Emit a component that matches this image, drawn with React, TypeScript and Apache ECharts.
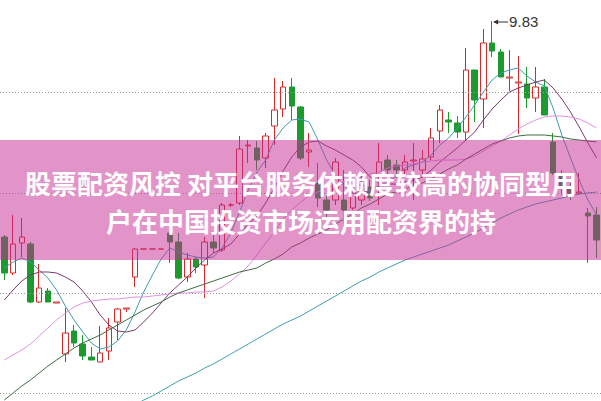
import React, { useEffect, useRef } from "react";
import * as echarts from "echarts";

const dayLabels = [
  "D1","D2","D3","D4","D5","D6","D7","D8","D9","D10","D11","D12","D13","D14","D15","D16","D17","D18","D19","D20",
  "D21","D22","D23","D24","D25","D26","D27","D28","D29","D30","D31","D32","D33","D34","D35","D36","D37","D38","D39","D40",
  "D41","D42","D43","D44","D45","D46","D47","D48","D49","D50","D51","D52","D53","D54","D55","D56","D57","D58","D59","D60",
  "D61","D62","D63","D64","D65","D66","D67","D68","D69",
];

const opens = [7.67,7.31,7.61,7.60,7.02,7.13,7.01,6.50,6.73,6.60,6.47,6.42,6.53,6.82,6.95,7.27,7.55,7.55,7.55,7.71,7.62,7.27,7.45,7.39,7.62,7.54,7.99,8.01,8.58,8.56,8.46,8.78,8.95,9.17,8.97,8.52,8.21,8.04,8.04,8.04,7.96,8.04,8.17,8.29,8.44,8.39,8.34,8.43,8.34,8.47,8.73,8.84,8.81,8.72,9.34,9.05,9.61,9.52,9.26,9.21,9.20,9.06,9.17,8.62,8.28,8.16,8.11,7.91,7.89];
const closes = [7.31,7.60,7.67,7.02,7.16,7.02,7.02,6.71,6.61,6.48,6.44,6.51,6.76,6.95,6.96,7.55,7.55,7.55,7.55,7.62,7.26,7.45,7.37,7.62,7.56,7.99,7.99,8.55,8.59,8.44,8.68,8.94,9.17,8.98,8.46,8.54,8.06,7.94,8.42,7.94,8.11,8.19,8.06,8.42,8.34,8.34,8.42,8.44,8.45,8.66,8.94,8.82,8.72,9.34,9.04,9.61,9.53,9.27,9.27,9.22,9.06,9.17,8.89,8.31,8.16,8.09,8.12,7.88,7.64];
const lows = [7.24,7.29,7.47,7.01,7.01,7.02,7.01,6.42,6.57,6.44,6.44,6.42,6.44,6.64,6.92,7.17,7.55,7.55,7.55,7.41,7.25,7.22,7.31,7.06,7.51,7.52,7.97,7.99,8.41,8.34,8.36,8.59,8.87,8.84,8.44,8.37,7.97,7.87,7.99,7.77,7.94,7.99,8.03,7.99,8.29,8.26,8.29,8.04,8.29,8.44,8.61,8.71,8.66,8.64,8.82,8.76,9.47,9.27,9.13,8.70,8.96,8.92,8.89,8.29,8.09,8.04,8.09,7.41,7.46];
const highs = [7.69,7.89,7.86,7.62,7.40,7.16,7.02,6.96,6.79,6.69,6.57,6.78,6.86,6.96,6.96,7.56,7.55,7.55,7.55,7.74,7.71,7.51,7.47,7.67,7.71,8.01,8.01,8.68,8.64,8.63,8.71,9.26,9.23,9.26,8.98,8.71,8.41,8.11,8.46,8.34,8.14,8.29,8.24,8.61,8.49,8.44,8.49,8.61,8.54,8.76,8.99,8.92,8.88,9.56,9.34,9.75,9.83,9.55,9.54,9.48,9.37,9.37,9.25,8.71,8.34,8.21,8.31,7.96,7.97];

const ma5 = [7.36,7.42,7.46,7.42,7.34,7.26,7.14,6.98,6.84,6.72,6.61,6.55,6.57,6.63,6.74,6.92,7.12,7.29,7.45,7.56,7.52,7.49,7.47,7.46,7.47,7.56,7.71,7.92,8.14,8.32,8.44,8.64,8.76,8.84,8.85,8.82,8.64,8.44,8.29,8.18,8.11,8.11,8.14,8.18,8.22,8.28,8.36,8.39,8.42,8.49,8.59,8.66,8.76,8.87,8.99,9.12,9.24,9.31,9.34,9.36,9.28,9.22,9.18,8.96,8.69,8.46,8.24,8.04,7.89];
const ma10 = [7.04,7.14,7.23,7.29,7.32,7.32,7.31,7.27,7.22,7.13,7.02,6.89,6.79,6.73,6.72,6.74,6.82,6.91,7.01,7.11,7.19,7.27,7.36,7.44,7.51,7.55,7.60,7.70,7.80,7.88,8.01,8.16,8.33,8.47,8.57,8.62,8.63,8.58,8.54,8.49,8.44,8.37,8.27,8.21,8.20,8.20,8.22,8.24,8.27,8.34,8.42,8.49,8.56,8.64,8.72,8.84,8.95,9.04,9.12,9.16,9.19,9.22,9.24,9.16,9.05,8.92,8.77,8.61,8.46];
const ma20 = [6.44,6.49,6.54,6.60,6.68,6.76,6.84,6.91,6.97,7.01,7.03,7.04,7.05,7.05,7.06,7.07,7.07,7.08,7.09,7.10,7.11,7.11,7.12,7.12,7.13,7.17,7.23,7.30,7.38,7.49,7.61,7.72,7.85,7.94,8.02,8.08,8.12,8.16,8.19,8.22,8.24,8.27,8.30,8.32,8.36,8.38,8.39,8.40,8.42,8.43,8.44,8.44,8.44,8.45,8.48,8.53,8.58,8.63,8.69,8.75,8.80,8.84,8.87,8.88,8.88,8.87,8.85,8.81,8.76];
const ma30 = [6.04,6.11,6.18,6.24,6.31,6.38,6.44,6.50,6.56,6.61,6.65,6.69,6.74,6.79,6.84,6.89,6.94,6.98,7.02,7.07,7.11,7.14,7.17,7.20,7.23,7.26,7.29,7.32,7.34,7.36,7.41,7.45,7.50,7.57,7.61,7.66,7.70,7.74,7.80,7.85,7.90,7.96,8.00,8.05,8.10,8.12,8.15,8.18,8.21,8.25,8.30,8.35,8.39,8.45,8.50,8.55,8.60,8.63,8.66,8.68,8.69,8.69,8.69,8.68,8.67,8.65,8.64,8.63,8.62];
const ma60 = [5.34,5.38,5.42,5.46,5.50,5.54,5.58,5.62,5.66,5.70,5.74,5.79,5.84,5.89,5.94,5.99,6.04,6.08,6.13,6.18,6.23,6.27,6.31,6.36,6.40,6.45,6.50,6.55,6.60,6.65,6.70,6.75,6.80,6.84,6.88,6.93,6.98,7.03,7.08,7.13,7.18,7.23,7.27,7.32,7.36,7.40,7.44,7.47,7.50,7.53,7.56,7.59,7.63,7.67,7.71,7.76,7.81,7.86,7.90,7.94,7.97,8.00,8.02,8.04,8.06,8.08,8.10,8.11,8.12];

const gridLevels = [9.12, 8.11, 7.11, 6.11];

const bannerLine1 = "股票配资风控 对平台服务依赖度较高的协同型用";
const bannerLine2 = "户在中国投资市场运用配资界的持";

const UP = "#d32a2a";
const DOWN = "#1d9a2e";

export default function App() {
  const ref = useRef<HTMLDivElement>(null);
  useEffect(() => {
    if (!ref.current) return;
    const chart = echarts.init(ref.current, null, { renderer: "svg" });
    const candleData = opens.map((o, i) => [o, closes[i], lows[i], highs[i]]);
    const maLine = (name: string, data: number[], color: string) => ({
      type: "line",
      name,
      data,
      symbol: "none",
      showSymbol: false,
      smooth: false,
      silent: true,
      lineStyle: { width: 1, color },
      itemStyle: { color },
      z: 5,
    });
    chart.setOption({
      animation: false,
      grid: { left: -0.375, top: 0, width: 603.75, height: 401 },
      xAxis: { type: "category", data: dayLabels, show: false, boundaryGap: true },
      yAxis: { type: "value", min: 6.03, max: 10.04, show: false, splitLine: { show: false } },
      series: [
        {
          type: "candlestick",
          data: candleData,
          barWidth: 6,
          silent: true,
          z: 4,
          itemStyle: {
            color: "#ffffff",
            color0: DOWN,
            borderColor: UP,
            borderColor0: DOWN,
            borderColorDoji: UP,
            borderWidth: 1,
          },
          markLine: {
            silent: true,
            symbol: ["none", "none"],
            label: { show: false },
            lineStyle: { color: "#9a9a9a", type: [1, 2], width: 1 },
            data: gridLevels.map((v) => ({ yAxis: v })),
          },
        },
        maLine("MA5", ma5, "#3f9db0"),
        maLine("MA10", ma10, "#7a3a6e"),
        maLine("MA20", ma20, "#df93df"),
        maLine("MA30", ma30, "#3d6b40"),
        maLine("MA60", ma60, "#3f9faa"),
      ],
    });

    let hiIdx = 0;
    highs.forEach((h, i) => {
      if (h > highs[hiIdx]) hiIdx = i;
    });
    const pt = chart.convertToPixel({ gridIndex: 0 }, [hiIdx, highs[hiIdx]]) as number[];
    const px = pt[0];
    const py = pt[1] + 1;

    const bannerText = (text: string, y: number) => ({
      type: "text",
      z: 101,
      silent: true,
      x: 301,
      y,
      style: {
        text,
        fill: "#ffffff",
        fontSize: 26,
        fontWeight: "bold",
        fontFamily: '"Noto Sans CJK SC"',
        textAlign: "center",
        textVerticalAlign: "middle",
        align: "center",
        verticalAlign: "middle",
      },
    });

    chart.setOption({
      graphic: [
        {
          type: "rect",
          z: 100,
          silent: true,
          shape: { x: 0, y: 140, width: 601, height: 120 },
          style: { fill: "rgba(198,42,148,0.5)" },
        },
        bannerText(bannerLine1, 182),
        bannerText(bannerLine2, 220),
        {
          type: "line",
          z: 20,
          silent: true,
          shape: { x1: px + 2, y1: py, x2: px + 16, y2: py },
          style: { stroke: "#333333", lineWidth: 1 },
        },
        {
          type: "polygon",
          z: 20,
          silent: true,
          shape: { points: [[px + 1, py], [px + 6, py - 2.5], [px + 6, py + 2.5]] },
          style: { fill: "#333333" },
        },
        {
          type: "text",
          z: 20,
          silent: true,
          x: px + 17,
          y: py - 1,
          style: {
            text: highs[hiIdx].toFixed(2),
            fill: "#333333",
            fontSize: 15,
            fontFamily: '"Liberation Sans", Arial, sans-serif',
            textAlign: "left",
            textVerticalAlign: "middle",
            align: "left",
            verticalAlign: "middle",
          },
        },
      ],
    });
    return () => chart.dispose();
  }, []);
  return (
    <div
      ref={ref}
      style={{ position: "fixed", left: 0, top: 0, width: 601, height: 401, background: "#ffffff" }}
    />
  );
}
